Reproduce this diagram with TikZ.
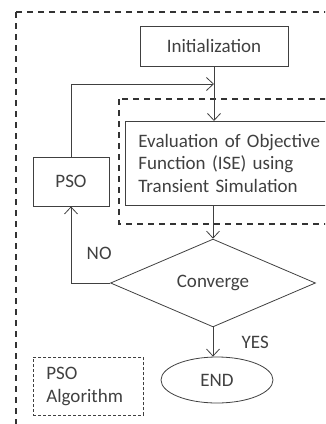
\documentclass[tikz,border=0pt]{standalone}
\usepackage{fontspec}
\setmainfont{Carlito}
\usetikzlibrary{shapes.geometric,arrows.meta}
\definecolor{linegray}{HTML}{404040}
\tikzset{
  box/.style={draw=linegray, line width=0.8pt, text=linegray},
  flow/.style={draw=linegray, line width=0.8pt, -{Straight Barb[length=7pt,width=13pt]}},
  frame/.style={draw=black!80, line width=2.2pt, dash pattern=on 6pt off 5pt},
}
\begin{document}
\begin{tikzpicture}[x=1pt, y=-1pt, font=\fontsize{19}{22.5}\selectfont]
    \useasboundingbox (0,0) rectangle (325,424);
    \clip (0,0) rectangle (325,424);

    % Dashed frames
    \draw[frame] (16,12) rectangle (345,445);
    \draw[frame] (119,99) rectangle (345,224);

    % Flow chart
    \node[box, minimum width=148pt, minimum height=40pt] (init) at (214,46) {Initialization};
    \node[box, anchor=north west, minimum width=210pt, minimum height=84pt,
          inner xsep=13pt, text width=184pt, align=left] (eval) at (125,121)
        {Evaluation of Objective\\Function (ISE) using\\Transient Simulation};
    \node[box, minimum width=76pt, minimum height=49pt] (pso) at (71,181.5) {PSO};
    \node[box, diamond, minimum width=205pt, minimum height=71pt, inner sep=0pt] (conv) at (213,283) {Converge};
    \node[box, ellipse, minimum width=112pt, minimum height=46pt] (end) at (217,380) {END};
    \coordinate (join) at (214,84);

    % Legend
    \node[draw=linegray, line width=0.6pt, dash pattern=on 3pt off 2pt, text=linegray,
          anchor=north west, minimum width=110pt, minimum height=58pt,
          inner xsep=13pt, text width=84pt, align=left] (legend) at (33,357) {PSO\\Algorithm};

    % Connectors
    \draw[flow] (init.south) -- (init.south |- eval.north);
    \draw[flow] (pso.north) |- (join);
    \draw[flow] (eval.south -| conv.north) -- (conv.north);
    \draw[flow] (conv.west) -| (pso.south)
        node[pos=0.69, anchor=west, xshift=12pt, text=linegray] {NO};
    \draw[flow] (conv.south) -- (conv.south |- end.north)
        node[pos=0.5, anchor=west, xshift=25pt, text=linegray] {YES};
\end{tikzpicture}
\end{document}
